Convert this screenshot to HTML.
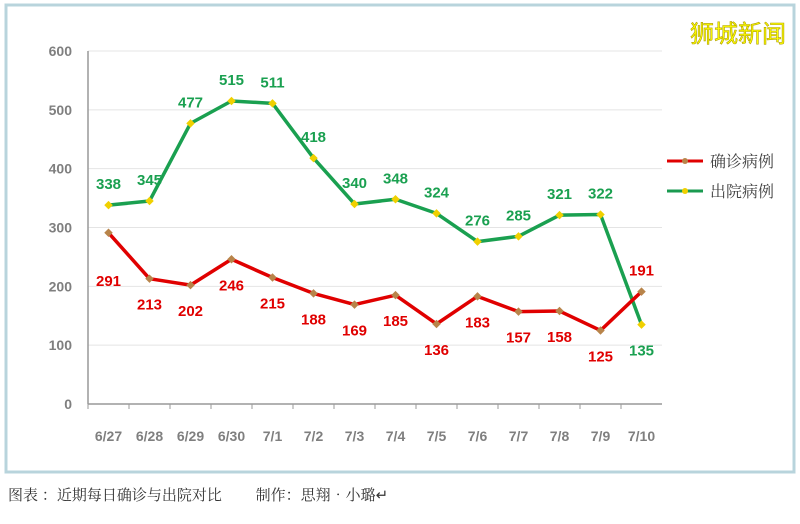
<!DOCTYPE html>
<html><head><meta charset="utf-8"><style>
body{margin:0;background:#fff;width:800px;height:519px;overflow:hidden;font-family:"Liberation Sans","Noto Sans CJK SC",sans-serif}
</style></head><body>
<svg id="chart" width="800" height="519" xmlns="http://www.w3.org/2000/svg">
<rect x="6" y="5" width="788" height="467" fill="#fff" stroke="#b8d4dc" stroke-width="3"/>
<text x="786" y="42" text-anchor="end" font-size="24" fill="#ffff00" stroke="#b0a000" stroke-width="0.6" font-family="'Noto Sans CJK SC',sans-serif">狮城新闻</text>
<g>
<line x1="667" y1="161" x2="703" y2="161" stroke="#e00000" stroke-width="3"/>
<circle cx="685" cy="161" r="3" fill="#b8844a"/>
<text x="710" y="167" font-size="16" fill="#404040" font-family="'Noto Serif CJK SC',serif">确诊病例</text>
<line x1="667" y1="191" x2="703" y2="191" stroke="#1a9a50" stroke-width="3"/>
<circle cx="685" cy="191" r="3" fill="#f0d000"/>
<text x="710" y="197" font-size="16" fill="#404040" font-family="'Noto Serif CJK SC',serif">出院病例</text>
</g>
<text x="8" y="500" font-size="15" fill="#333" font-family="'Noto Serif CJK SC',serif">图表 ：近期每日确诊与出院对比　　 制作：思翔•小璐↵</text>
</svg>
<script>
const categories=["6/27","6/28","6/29","6/30","7/1","7/2","7/3","7/4","7/5","7/6","7/7","7/8","7/9","7/10"];
const confirmed=[291,213,202,246,215,188,169,185,136,183,157,158,125,191];
const discharged=[338,345,477,515,511,418,340,348,324,276,285,321,322,135];
const yTicks=[0,100,200,300,400,500,600];
const svg=document.getElementById('chart');
const NS='http://www.w3.org/2000/svg';
const x0=88,bw=41,yBase=404,yTop=51,yMax=600;
const X=i=>x0+bw*(i+0.5);
const Y=v=>yBase-(v/yMax)*(yBase-yTop);
function mk(t,a,p){const e=document.createElementNS(NS,t);for(const k in a)e.setAttribute(k,a[k]);(p||svg).appendChild(e);return e;}
yTicks.forEach(v=>{
 if(v>0){const g=mk('line',{x1:x0,x2:x0+bw*categories.length,y1:Y(v),y2:Y(v),stroke:'#e4e4e4','stroke-width':1});
 
 }
 const t=mk('text',{x:72,y:Y(v)+5,'text-anchor':'end','font-size':14,'font-weight':'bold',fill:'#7f7f7f'});t.textContent=v;
 
 
});
const ax=mk('line',{x1:x0,x2:x0+bw*categories.length,y1:yBase,y2:yBase,stroke:'#999','stroke-width':1.5});


const ay=mk('line',{x1:x0,x2:x0,y1:yTop,y2:yBase,stroke:'#999','stroke-width':1.5});


categories.forEach((c,i)=>{
 const tk=mk('line',{x1:x0+bw*i,x2:x0+bw*i,y1:yBase,y2:yBase+5,stroke:'#999'});
 
 
 const t=mk('text',{x:X(i),y:441,'text-anchor':'middle','font-size':14,'font-weight':'bold',fill:'#7f7f7f'});t.textContent=c;
 
 
});
function series(vals,color,mcol,name,below,extra){
 const l=mk('polyline',{points:vals.map((v,i)=>X(i)+','+Y(v)).join(' '),fill:'none',stroke:color,'stroke-width':3.5,'stroke-linejoin':'round'});
 
 
 vals.forEach((v,i)=>{
  const m=mk('rect',{x:X(i)-3,y:Y(v)-3,width:6,height:6,fill:mcol,transform:`rotate(45 ${X(i)} ${Y(v)})`});
  
  
  const b=below(i);
  const t=mk('text',{x:X(i),y:(b?Y(v)+31:Y(v)-16)+extra(i),'text-anchor':'middle','font-size':15,'font-weight':'bold',fill:color});t.textContent=v;
  
  
 });
}
series(discharged,'#1aa050','#f0d000','discharged',i=>i===13,i=>0);
series(confirmed,'#e00000','#b8844a','confirmed',i=>i!==13,i=>i===0?22:0);
</script>
</body></html>
